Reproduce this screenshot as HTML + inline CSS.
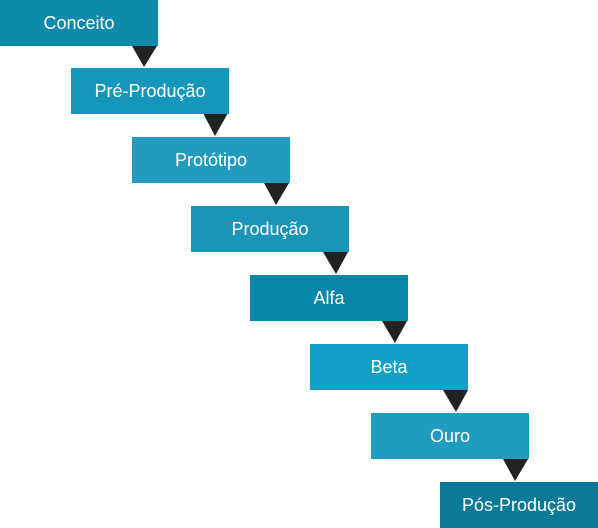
<!DOCTYPE html>
<html><head><style>
body{margin:0;width:598px;height:528px;background:#fff;position:relative;overflow:hidden;font-family:"Liberation Sans",sans-serif}
.b{position:absolute;width:158px;height:46px;color:#fff;font-size:18px;line-height:46px;text-align:center}
svg{position:absolute;left:0;top:0}
</style></head><body>
<svg width="598" height="528">
<g fill="#222">
<polygon points="132,46 157,46 144,67"/>
<polygon points="203,113 228,113 215,136"/>
<polygon points="264,183 289,183 276,205"/>
<polygon points="323,252 348,252 336,274"/>
<polygon points="382,321 407,321 395,343"/>
<polygon points="443,390 468,390 456,412"/>
<polygon points="503,459 528,459 515,481"/>
</g>
</svg>
<div class="b" style="left:0;top:0;background:#0e8aab">Conceito</div>
<div class="b" style="left:71px;top:68px;background:#1696bb">Pré-Produção</div>
<div class="b" style="left:132px;top:137px;background:#219cbf">Protótipo</div>
<div class="b" style="left:191px;top:206px;background:#1b94b9">Produção</div>
<div class="b" style="left:250px;top:275px;background:#0a86aa">Alfa</div>
<div class="b" style="left:310px;top:344px;background:#12a0c8">Beta</div>
<div class="b" style="left:371px;top:413px;background:#209cc0">Ouro</div>
<div class="b" style="left:440px;top:482px;background:#0a7a98">Pós-Produção</div>
</body></html>
